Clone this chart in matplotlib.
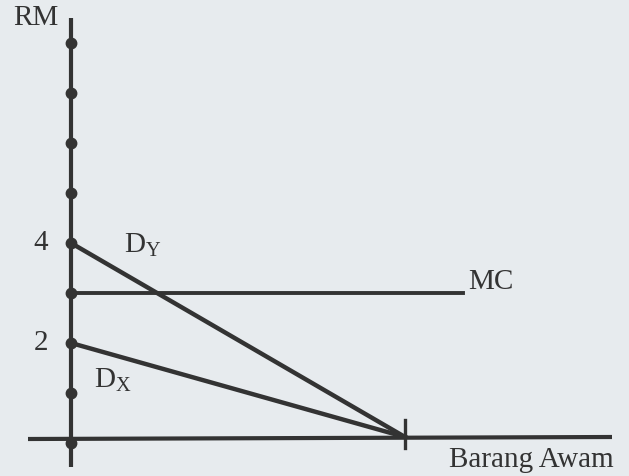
import matplotlib
matplotlib.use("Agg")
import matplotlib.pyplot as plt

plt.rcParams['font.family'] = ['Liberation Serif', 'DejaVu Serif']
plt.rcParams['mathtext.fontset'] = 'custom'
plt.rcParams['mathtext.rm'] = 'Liberation Serif'
plt.rcParams['mathtext.it'] = 'Liberation Serif'

# price marks on the RM axis
price_marks = [0, 1, 2, 3, 4, 5, 6, 7, 8]
price_labels = {4: '4', 2: '2'}

# demand curves: price intercept -> quantity intercept
dy_price = 4
dx_price = 2
q_end = 6.68
mc_price = 3
mc_end = 7.84

bg = '#e7ebee'
ink = '#333333'

fig = plt.figure(figsize=(6.29, 4.76), dpi=100, facecolor=bg)
ax = fig.add_axes([0, 0, 1, 1])
ax.set_facecolor(bg)
ax.set_xlim(-1.42, 11.16)
ax.set_ylim(-0.66, 8.86)
ax.axis('off')

# axes
ax.plot([0, 0], [-0.48, 8.5], color=ink, lw=3, solid_capstyle='butt')
ax.plot([-0.86, 10.82], [0.08, 0.12], color=ink, lw=3, solid_capstyle='butt')
ax.plot([0] * len(price_marks), price_marks, 'o', color=ink, ms=7.5)

# curves
ax.plot([0, q_end], [dy_price, 0.12], color=ink, lw=3.2)
ax.plot([0, q_end], [dx_price, 0.12], color=ink, lw=3.2)
ax.plot([0, mc_end], [mc_price, mc_price], color=ink, lw=2.8)
ax.plot([q_end, q_end], [-0.1, 0.46], color=ink, lw=2.4)

# text
ax.text(-0.7, 8.5, 'RM', fontsize=21, color=ink, ha='center', va='center')
for v, s in price_labels.items():
    ax.text(-0.6, v, s, fontsize=21, color=ink, ha='center', va='center')
ax.text(1.06, 3.95, r'$\mathrm{D_Y}$', fontsize=21, color=ink, ha='left', va='center')
ax.text(0.46, 1.25, r'$\mathrm{D_X}$', fontsize=21, color=ink, ha='left', va='center')
ax.text(7.94, 3.22, 'MC', fontsize=21, color=ink, ha='left', va='center')
ax.text(7.56, -0.34, 'Barang Awam', fontsize=21, color=ink, ha='left', va='center')

fig.savefig('out.png', dpi=100, facecolor=bg)
